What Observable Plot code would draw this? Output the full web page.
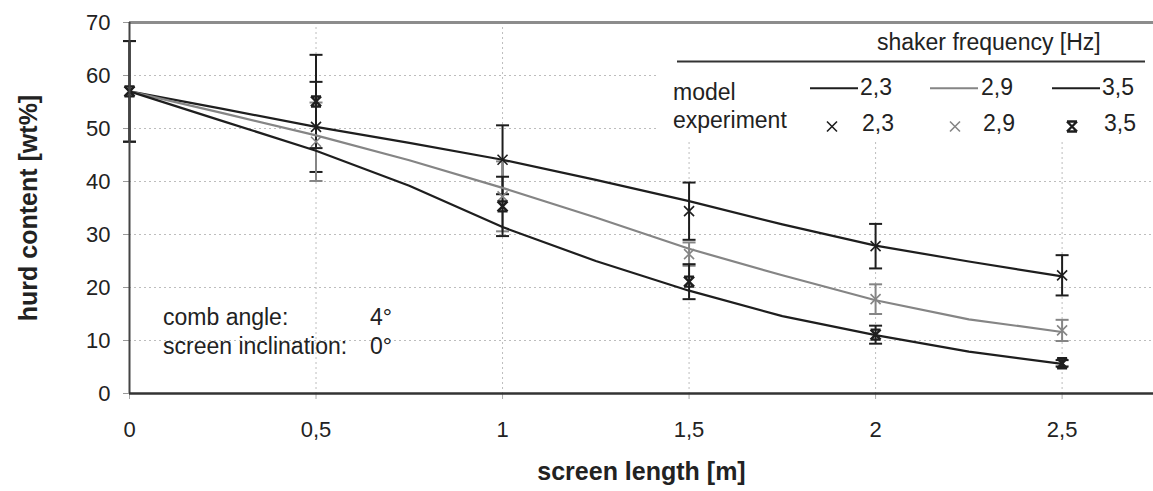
<!DOCTYPE html>
<html><head><meta charset="utf-8">
<script src="https://cdn.jsdelivr.net/npm/d3@7"></script>
<script src="https://cdn.jsdelivr.net/npm/@observablehq/plot@0.6"></script>
<style>
html,body{margin:0;padding:0;background:#fff;}
#chart svg{display:block;}
</style></head><body><div id="chart"></div>
<script>
// ---- data ----
const screenLength = [0, 0.25, 0.5, 0.75, 1, 1.25, 1.5, 1.75, 2, 2.25, 2.5];
const model23 = [57, 53.7, 50.3, 47.3, 44.1, 40.3, 36.3, 31.9, 27.9, 24.9, 22.1];
const model29 = [57, 52.9, 48.7, 44.0, 38.8, 33.2, 27.3, 22.3, 17.6, 14.0, 11.6];
const model35 = [57, 51.4, 45.8, 39.2, 31.4, 25.0, 19.4, 14.6, 11.0, 7.9, 5.6];

const expX  = [0, 0.5, 1, 1.5, 2, 2.5];
const exp23 = [57, 50.3, 44.1, 34.4, 27.8, 22.3];
const err23 = [9.5, 8.5, 6.5, 5.4, 4.2, 3.8];
const exp29 = [57, 47.5, 37.2, 26.3, 17.8, 11.9];
const err29 = [9.5, 7.4, 6.6, 2.2, 2.8, 2.0];
const exp35 = [57, 55.1, 35.3, 21.1, 11.1, 5.7];
const err35 = [9.5, 8.8, 5.6, 3.3, 1.7, 0.6];

const frequencies = ["2,3", "2,9", "3,5"];
const xTicks = [0, 0.5, 1, 1.5, 2, 2.5];
const yTicks = [0, 10, 20, 30, 40, 50, 60, 70];
const xLabel = "screen length [m]";
const yLabel = "hurd content [wt%]";
const legendTitle = "shaker frequency [Hz]";
const legendRows = ["model", "experiment"];
const noteLabels = ["comb angle:", "screen inclination:"];
const noteValues = ["4°", "0°"];

// ---- styles ----
const colors = {"2,3": "#1e1e1e", "2,9": "#858585", "3,5": "#1e1e1e"};
const FONT = "'Liberation Sans', Arial, Helvetica, sans-serif";

// custom symbols
const rad = size => Math.sqrt(size / Math.PI);
const symX = {draw(ctx, size) {const r = rad(size); ctx.moveTo(-r, -r); ctx.lineTo(r, r); ctx.moveTo(-r, r); ctx.lineTo(r, -r);}};
const symXBold = {draw(ctx, size) {const r = rad(size); ctx.moveTo(-r, -r); ctx.lineTo(r, r); ctx.moveTo(-r, r); ctx.lineTo(r, -r);
  ctx.moveTo(-r, -r); ctx.lineTo(r, -r); ctx.moveTo(-r, r); ctx.lineTo(r, r);}};
const symCap = {draw(ctx, size) {const r = rad(size); ctx.moveTo(-r, 0); ctx.lineTo(r, 0);}};

const symbolOf = {"2,3": symX, "2,9": symX, "3,5": symXBold};
const markerStroke = {"2,3": 1.6, "2,9": 1.6, "3,5": 2.4};

// tables
const models = [model23, model29, model35];
const modelRows = frequencies.flatMap((f, k) => screenLength.map((x, i) => ({f, x, y: models[k][i]})));
const exps = [exp23, exp29, exp35];
const errs = [err23, err29, err35];
const expRows = frequencies.flatMap((f, k) => expX.map((x, i) => ({f, x, y: exps[k][i], lo: exps[k][i] - errs[k][i], hi: exps[k][i] + errs[k][i]})));

const marks = [
  Plot.ruleY(yTicks.filter(v => v > 0 && v < 70), {stroke: "#bdbdbd", strokeDasharray: "2,3"}),
  Plot.ruleX(xTicks.filter(v => v > 0), {stroke: "#bdbdbd", strokeDasharray: "2,3"}),
  Plot.axisY({ticks: yTicks, tickSize: 6, tickPadding: 13, label: null, color: "#222", stroke: "#999"}),
  Plot.axisX({ticks: xTicks, tickFormat: d => String(d).replace(".", ","), tickSize: 6, tickPadding: 22, label: null, color: "#222", stroke: "#aaa"}),
];
for (const f of frequencies) {
  const rows = expRows.filter(d => d.f === f);
  marks.push(Plot.ruleX(rows, {x: "x", y1: "lo", y2: "hi", stroke: colors[f], strokeWidth: 2}));
  marks.push(Plot.dot(rows, {x: "x", y: "lo", symbol: symCap, r: 6.5, fill: "none", stroke: colors[f], strokeWidth: 2}));
  marks.push(Plot.dot(rows, {x: "x", y: "hi", symbol: symCap, r: 6.5, fill: "none", stroke: colors[f], strokeWidth: 2}));
}
for (const f of frequencies) {
  marks.push(Plot.line(modelRows.filter(d => d.f === f), {x: "x", y: "y", stroke: colors[f], strokeWidth: 2.2}));
}
for (const f of frequencies) {
  marks.push(Plot.dot(expRows.filter(d => d.f === f), {x: "x", y: "y", symbol: symbolOf[f], r: 5, fill: "none", stroke: colors[f], strokeWidth: markerStroke[f]}));
}
marks.push(
  Plot.ruleY([70], {stroke: "#8c8c8c", strokeWidth: 3}),
  Plot.ruleX([0], {stroke: "#444", strokeWidth: 2}),
  Plot.ruleY([0], {stroke: "#333", strokeWidth: 2.5}),
  Plot.text([yLabel], {text: d => d, frameAnchor: "left", textAnchor: "middle", dx: -101, rotate: -90, fontSize: 25, fontWeight: "bold", fill: "#222"}),
  Plot.text([xLabel], {text: d => d, frameAnchor: "bottom", textAnchor: "middle", dy: 86, fontSize: 25, fontWeight: "bold", fill: "#222"})
);

const chart = Plot.plot({
  width: 1153, height: 491,
  marginLeft: 129, marginRight: 0, marginTop: 22, marginBottom: 98,
  style: {fontFamily: FONT, fontSize: "22px", color: "#222", background: "#fff"},
  x: {domain: [0, 2.745]},
  y: {domain: [0, 70]},
  marks
});
document.getElementById("chart").appendChild(chart);

// ---- annotation and legend (layout overlay in the same SVG) ----
const svg = d3.select(chart);
const g = svg.append("g").attr("font-family", FONT).attr("fill", "#222").attr("font-size", 23).attr("text-anchor", "start");
const noteY = [325, 354];
noteLabels.forEach((t, i) => {
  g.append("text").attr("x", 163).attr("y", noteY[i]).text(t);
  g.append("text").attr("x", 370).attr("y", noteY[i]).text(noteValues[i]);
});
const L = g.append("g");
L.append("rect").attr("x", 659).attr("y", 27).attr("width", 494).attr("height", 113).attr("fill", "#fff");
L.append("line").attr("x1", 677).attr("x2", 1145).attr("y1", 61.5).attr("y2", 61.5).attr("stroke", "#333").attr("stroke-width", 2);
L.append("text").attr("x", 877).attr("y", 50).text(legendTitle);
L.append("text").attr("x", 673).attr("y", 100).text(legendRows[0]);
L.append("text").attr("x", 673).attr("y", 128).text(legendRows[1]);
const lineX = [810, 930, 1052];
const markX = [832, 955, 1072];
const labX = [860, 981, 1102];
frequencies.forEach((f, i) => {
  L.append("line").attr("x1", lineX[i]).attr("x2", lineX[i] + 48).attr("y1", 88.3).attr("y2", 88.3)
    .attr("stroke", colors[f]).attr("stroke-width", 2);
  L.append("text").attr("x", labX[i]).attr("y", 95).text(f);
  L.append("path").attr("transform", `translate(${markX[i]},126.5)`)
    .attr("d", d3.symbol(symbolOf[f], Math.PI * 25)())
    .attr("fill", "none").attr("stroke", colors[f]).attr("stroke-width", markerStroke[f]);
  L.append("text").attr("x", labX[i] + 2).attr("y", 131).text(f);
});
</script></body></html>
